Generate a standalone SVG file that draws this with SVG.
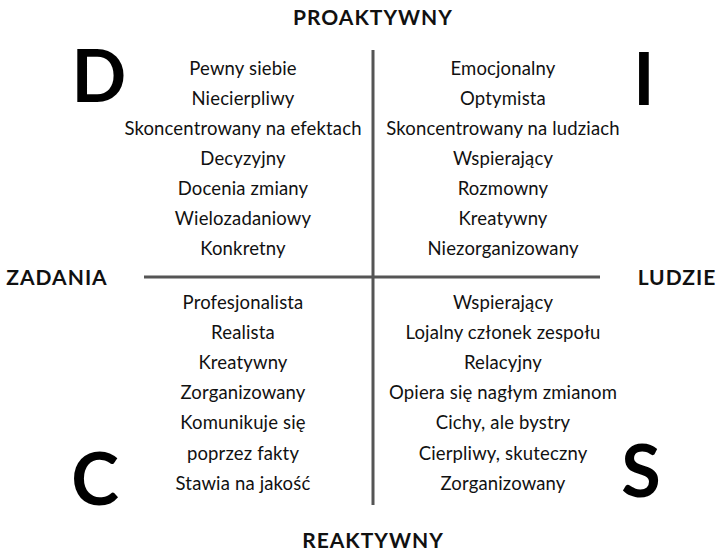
<svg xmlns="http://www.w3.org/2000/svg" width="719" height="552" viewBox="0 0 719 552">
<style>
.t{font-family:Lato,"Liberation Sans",sans-serif;font-size:18.5px;letter-spacing:0.15px;fill:#111;text-anchor:middle}
.h{font-family:Lato,"Liberation Sans",sans-serif;font-size:21px;letter-spacing:1px;font-weight:bold;fill:#111;text-anchor:middle}
.big{font-family:Lato,"Liberation Sans",sans-serif;font-size:72px;font-weight:bold;fill:#000;text-anchor:middle}
.ax{stroke:#555;stroke-width:3;fill:none}
</style>
<rect width="719" height="552" fill="#fff"/>
<g id="connectors">
<line class="ax" x1="373" y1="50" x2="373" y2="505"/>
<line class="ax" x1="144" y1="277" x2="600" y2="277"/>
</g>
<g id="labels">
<text class="h" x="373" y="25">PROAKTYWNY</text>
<text class="h" x="373" y="548">REAKTYWNY</text>
<text class="h" x="57" y="285">ZADANIA</text>
<text class="h" x="677" y="285">LUDZIE</text>
</g>
<g id="D">
<text class="big" x="99" y="102">D</text>
<text class="t" x="243" y="75">Pewny siebie</text>
<text class="t" x="243" y="105">Niecierpliwy</text>
<text class="t" x="243" y="135">Skoncentrowany na efektach</text>
<text class="t" x="243" y="165">Decyzyjny</text>
<text class="t" x="243" y="195">Docenia zmiany</text>
<text class="t" x="243" y="225">Wielozadaniowy</text>
<text class="t" x="243" y="255">Konkretny</text>
</g>
<g id="I">
<text class="big" x="644" y="105">I</text>
<text class="t" x="503" y="75">Emocjonalny</text>
<text class="t" x="503" y="105">Optymista</text>
<text class="t" x="503" y="135">Skoncentrowany na ludziach</text>
<text class="t" x="503" y="165">Wspierający</text>
<text class="t" x="503" y="195">Rozmowny</text>
<text class="t" x="503" y="225">Kreatywny</text>
<text class="t" x="503" y="255">Niezorganizowany</text>
</g>
<g id="C">
<text class="big" x="95" y="505">C</text>
<text class="t" x="243" y="309">Profesjonalista</text>
<text class="t" x="243" y="339">Realista</text>
<text class="t" x="243" y="369">Kreatywny</text>
<text class="t" x="243" y="399">Zorganizowany</text>
<text class="t" x="243" y="429">Komunikuje się</text>
<text class="t" x="243" y="460">poprzez fakty</text>
<text class="t" x="243" y="490">Stawia na jakość</text>
</g>
<g id="S">
<text class="big" x="641" y="497">S</text>
<text class="t" x="503" y="309">Wspierający</text>
<text class="t" x="503" y="339">Lojalny członek zespołu</text>
<text class="t" x="503" y="369">Relacyjny</text>
<text class="t" x="503" y="399">Opiera się nagłym zmianom</text>
<text class="t" x="503" y="429">Cichy, ale bystry</text>
<text class="t" x="503" y="460">Cierpliwy, skuteczny</text>
<text class="t" x="503" y="490">Zorganizowany</text>
</g>
</svg>
